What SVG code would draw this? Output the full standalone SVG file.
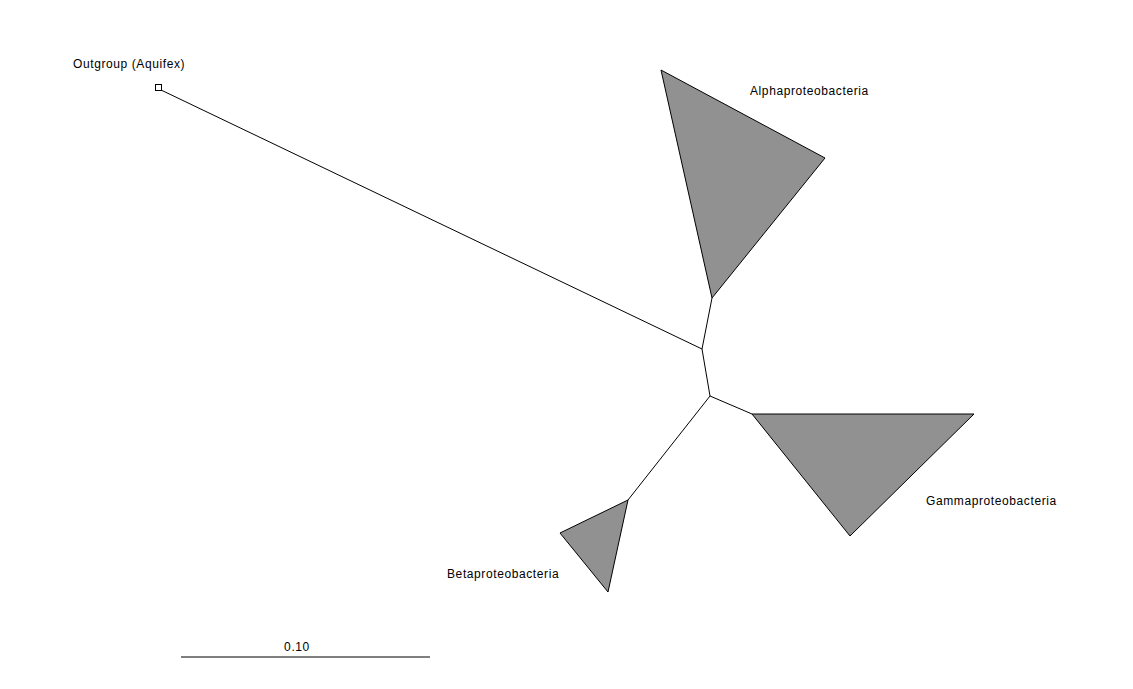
<svg xmlns="http://www.w3.org/2000/svg" width="1133" height="689" viewBox="0 0 1133 689">
<style>
.lbl{font-family:"Liberation Sans",Arial,sans-serif;font-size:12px;letter-spacing:0.6px;fill:#000}
.edge{stroke:#000;stroke-width:1;fill:none}
.clade{fill:#919191;stroke:#000;stroke-width:1;stroke-linejoin:round}
</style>
<rect width="1133" height="689" fill="#fff"/>
<g id="connectors">
<line class="edge" x1="161" y1="90" x2="702" y2="349"/>
<line class="edge" x1="702" y1="349" x2="712" y2="298"/>
<line class="edge" x1="702" y1="349" x2="710" y2="396"/>
<line class="edge" x1="710" y1="396" x2="752" y2="414"/>
<line class="edge" x1="710" y1="396" x2="628" y2="500"/>
</g>
<g id="outgroup">
<rect x="155.5" y="84.5" width="6" height="6" fill="#fff" stroke="#000"/>
<text class="lbl" x="73" y="68">Outgroup (Aquifex)</text>
</g>
<g id="alpha">
<polygon class="clade" points="712,298 661,70 825,158"/>
<text class="lbl" x="750" y="95">Alphaproteobacteria</text>
</g>
<g id="gamma">
<polygon class="clade" points="752,414 974,414 850,536"/>
<text class="lbl" x="926" y="505">Gammaproteobacteria</text>
</g>
<g id="beta">
<polygon class="clade" points="628,500 560,533 608,592"/>
<text class="lbl" x="447" y="578">Betaproteobacteria</text>
</g>
<g id="scalebar">
<line class="edge" x1="181" y1="657" x2="430" y2="657"/>
<text class="lbl" x="297" y="651" text-anchor="middle">0.10</text>
</g>
</svg>
